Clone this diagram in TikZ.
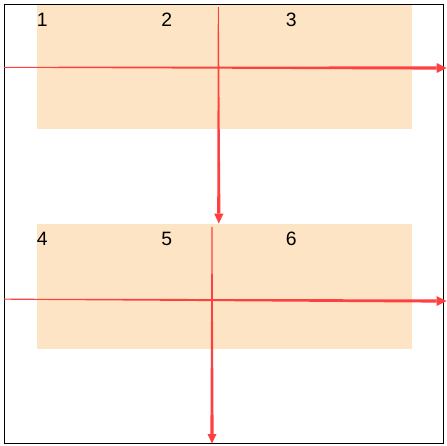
\documentclass[tikz,border=0pt]{standalone}
\usepackage{fontspec}
\setmainfont{Liberation Sans}
\usetikzlibrary{arrows.meta,calc}
\definecolor{peach}{HTML}{FDE4C4}
\definecolor{arrowred}{HTML}{FF4040}
\tikzset{
  band/.style={fill=peach, draw=none},
  frame/.style={draw=black, line width=0.75pt},
  num/.style={anchor=base west, inner sep=0pt, font=\fontsize{14.5pt}{17pt}\selectfont},
  shaft/.style={fill=arrowred, draw=none},
  tip/.style={fill=arrowred, draw=none}
}
\begin{document}
\begin{tikzpicture}[x=0.75pt,y=-0.75pt]
\useasboundingbox (0,0) rectangle (447,446);
% bands
\fill[band] (37,4) rectangle (412,129);
\fill[band] (37,223.5) rectangle (412,348.5);
% frame
\draw[frame] (4,4) rectangle (443,443);
% labels
\node[num] (n1) at (36.5,26.3) {1};
\node[num] (n2) at (161,26.3) {2};
\node[num] (n3) at (285.5,26.3) {3};
\node[num] (n4) at (36.5,245.8) {4};
\node[num] (n5) at (161,245.8) {5};
\node[num] (n6) at (285.5,245.8) {6};
% arrow coordinates (start, base of head, point)
\coordinate (h1s) at (4,67.3);
\coordinate (h1b) at (436.5,68);
\coordinate (h1e) at (446.5,68);
\coordinate (v1s) at (218.3,7);
\coordinate (v1b) at (218.8,213.5);
\coordinate (v1e) at (218.8,223.5);
\coordinate (h2s) at (4,299.2);
\coordinate (h2b) at (436.5,301);
\coordinate (h2e) at (446.5,301);
\coordinate (v2s) at (212,227);
\coordinate (v2b) at (212,434);
\coordinate (v2e) at (212,443.5);
% horizontal arrows
\fill[shaft] ($(h1s)+(0,-0.5)$) -- ($(h1b)+(0,-1.6)$) -- ($(h1b)+(0,1.6)$) -- ($(h1s)+(0,0.5)$) -- cycle;
\fill[tip] ($(h1b)+(0,-5)$) -- (h1e) -- ($(h1b)+(0,5)$) -- cycle;
\fill[shaft] ($(h2s)+(0,-0.5)$) -- ($(h2b)+(0,-1.6)$) -- ($(h2b)+(0,1.6)$) -- ($(h2s)+(0,0.5)$) -- cycle;
\fill[tip] ($(h2b)+(0,-5)$) -- (h2e) -- ($(h2b)+(0,5)$) -- cycle;
% vertical arrows
\fill[shaft] ($(v1s)+(-0.5,0)$) -- ($(v1b)+(-1.6,0)$) -- ($(v1b)+(1.6,0)$) -- ($(v1s)+(0.5,0)$) -- cycle;
\fill[tip] ($(v1b)+(-4.7,0)$) -- (v1e) -- ($(v1b)+(4.7,0)$) -- cycle;
\fill[shaft] ($(v2s)+(-0.5,0)$) -- ($(v2b)+(-1.6,0)$) -- ($(v2b)+(1.6,0)$) -- ($(v2s)+(0.5,0)$) -- cycle;
\fill[tip] ($(v2b)+(-4.5,0)$) -- (v2e) -- ($(v2b)+(4.5,0)$) -- cycle;
\end{tikzpicture}
\end{document}
